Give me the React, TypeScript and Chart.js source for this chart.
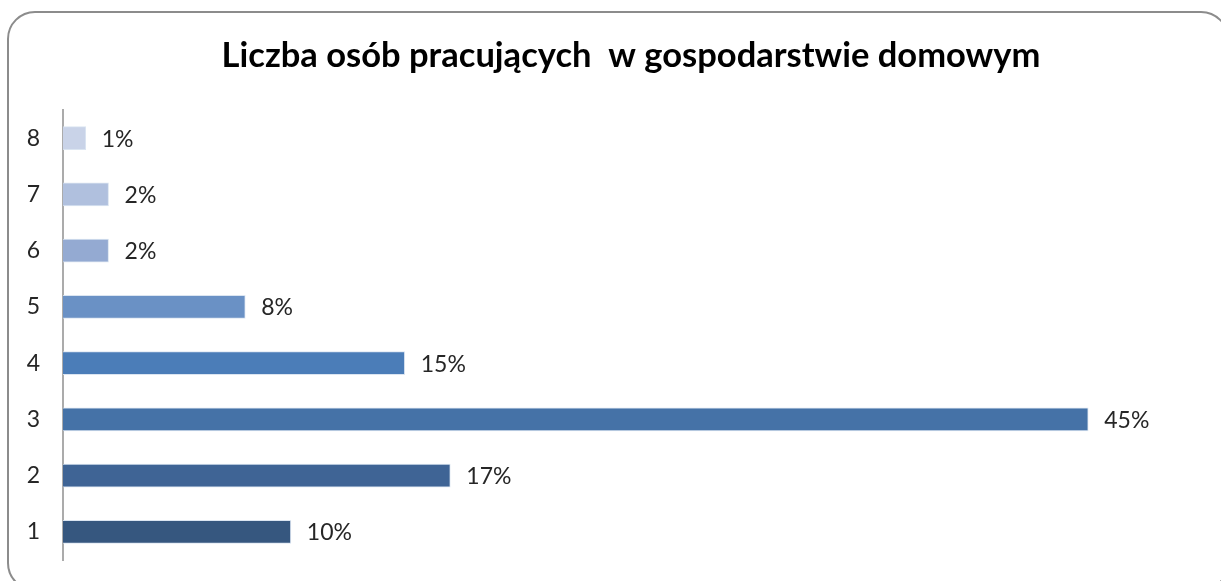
import React, { useEffect, useRef } from "react";
import { Chart, registerables } from "chart.js";

Chart.register(...registerables);

const title = "Liczba osób pracujących  w gospodarstwie domowym";
const categories = ["1", "2", "3", "4", "5", "6", "7", "8"];
const values = [10, 17, 45, 15, 8, 2, 2, 1];
const valueLabels = ["10%", "17%", "45%", "15%", "8%", "2%", "2%", "1%"];
const barColors = [
  "#36577F",
  "#3F6495",
  "#4572A7",
  "#4B7DB8",
  "#6A91C5",
  "#94AAD2",
  "#B0C0DE",
  "#C9D3E8",
];

const FONT = "Lato, 'Open Sans', sans-serif";

const valueLabelPlugin = {
  id: "valueLabels",
  afterDatasetsDraw(chart: any) {
    const ctx = chart.ctx;
    const meta = chart.getDatasetMeta(0);
    ctx.save();
    ctx.font = `23px ${FONT}`;
    ctx.fillStyle = "#262626";
    ctx.textAlign = "left";
    ctx.textBaseline = "middle";
    meta.data.forEach((bar: any, i: number) => {
      ctx.fillText(valueLabels[i], bar.x + 16, bar.y + 1);
    });
    ctx.restore();
  },
};

export default function App() {
  const ref = useRef<HTMLCanvasElement>(null);
  useEffect(() => {
    if (!ref.current) return;
    const chart = new Chart(ref.current, {
      type: "bar",
      data: {
        labels: categories,
        datasets: [
          {
            data: values,
            backgroundColor: barColors,
            borderColor: "rgba(215,226,240,0.9)",
            borderWidth: 1,
            barThickness: 23,
          },
        ],
      },
      options: {
        indexAxis: "y",
        animation: false,
        responsive: false,
        layout: { padding: { left: 20, right: 8, top: 0, bottom: 21 } },
        plugins: {
          legend: { display: false },
          tooltip: { enabled: false },
          title: {
            display: true,
            text: title,
            color: "#000000",
            font: { family: FONT, size: 34.5, weight: "bold", lineHeight: 1.2 },
            padding: { top: 35, bottom: 33.6 },
          },
        },
        scales: {
          x: { display: false, min: 0, max: 51.75 },
          y: {
            reverse: true,
            afterFit: (s: any) => {
              s.width = 43;
              s.paddingTop = 0;
              s.paddingBottom = 0;
            },
            grid: { display: false, drawTicks: false },
            border: { display: true, color: "#ABABAB", width: 2 },
            ticks: {
              padding: 23,
              color: "#262626",
              font: { family: FONT, size: 23 },
            },
          },
        },
      },
      plugins: [valueLabelPlugin],
    });
    return () => chart.destroy();
  }, []);
  return (
    <div
      style={{
        position: "fixed",
        left: 0,
        top: 0,
        width: 1221,
        height: 581,
        overflow: "hidden",
        background: "#ffffff",
      }}
    >
      <div
        style={{
          position: "absolute",
          left: 7,
          top: 11,
          width: 1222,
          height: 580,
          border: "2px solid #8C8C8C",
          borderRadius: 28,
          boxSizing: "border-box",
        }}
      />
      <canvas
        ref={ref}
        width={1250}
        height={581}
        style={{ position: "absolute", left: 0, top: 0 }}
      />
    </div>
  );
}
